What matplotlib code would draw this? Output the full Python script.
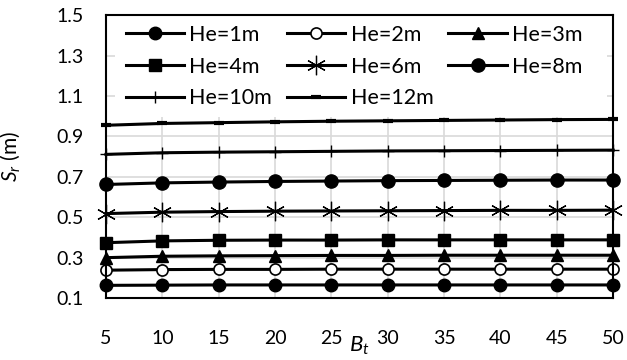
import matplotlib
matplotlib.use('Agg')
import matplotlib.pyplot as plt
from matplotlib.patches import Rectangle

plt.rcParams['font.family'] = ['Lato', 'DejaVu Sans']
plt.rcParams['mathtext.fontset'] = 'custom'
plt.rcParams['mathtext.rm'] = 'Lato'
plt.rcParams['mathtext.it'] = 'Lato:italic'

bt = [5, 10, 15, 20, 25, 30, 35, 40, 45, 50]

he1 = [0.163, 0.164, 0.165, 0.165, 0.165, 0.165, 0.165, 0.165, 0.165, 0.165]
he2 = [0.238, 0.241, 0.242, 0.242, 0.243, 0.243, 0.243, 0.243, 0.243, 0.243]
he3 = [0.300, 0.307, 0.309, 0.310, 0.311, 0.311, 0.312, 0.312, 0.312, 0.312]
he4 = [0.374, 0.383, 0.386, 0.387, 0.387, 0.388, 0.388, 0.388, 0.388, 0.388]
he6 = [0.518, 0.525, 0.528, 0.530, 0.531, 0.532, 0.533, 0.534, 0.534, 0.535]
he8 = [0.662, 0.670, 0.674, 0.677, 0.679, 0.681, 0.682, 0.683, 0.684, 0.684]
he10 = [0.811, 0.819, 0.822, 0.824, 0.826, 0.828, 0.829, 0.830, 0.831, 0.832]
he12 = [0.955, 0.964, 0.968, 0.972, 0.975, 0.977, 0.979, 0.981, 0.983, 0.984]

labels = ['He=1m', 'He=2m', 'He=3m', 'He=4m', 'He=6m', 'He=8m', 'He=10m', 'He=12m']
yticks = [0.1, 0.3, 0.5, 0.7, 0.9, 1.1, 1.3, 1.5]

fig = plt.figure(figsize=(6.27, 3.6), dpi=100)
ax = fig.add_axes([0.169, 0.172, 0.809, 0.786])

lw = 2.2
k = 'black'
ax.plot(bt, he1, color=k, lw=lw, marker='o', ms=9, mfc=k, mec=k, label=labels[0], clip_on=False)
ax.plot(bt, he2, color=k, lw=lw, marker='o', ms=8, mfc='white', mec=k, mew=1.2, label=labels[1], clip_on=False)
ax.plot(bt, he3, color=k, lw=lw, marker='^', ms=8.5, mfc=k, mec=k, label=labels[2], clip_on=False)
ax.plot(bt, he4, color=k, lw=lw, marker='s', ms=8.5, mfc=k, mec=k, label=labels[3], clip_on=False)
ax.plot(bt, he6, color=k, lw=lw, marker=(6, 2, 0), ms=14, mec=k, mew=0.9, label=labels[4], clip_on=False)
ax.plot(bt, he8, color=k, lw=lw, marker='o', ms=9.5, mfc=k, mec=k, label=labels[5], clip_on=False)
ax.plot(bt, he10, color=k, lw=lw, marker='+', ms=9, mec=k, mew=1.0, label=labels[6], clip_on=False)
ax.plot(bt, he12, color=k, lw=lw, marker='_', ms=7, mec=k, mew=3, label=labels[7], clip_on=False)

ax.set_xlim(5, 50)
ax.set_ylim(0.1, 1.5)
ax.set_xticks(bt)
ax.set_yticks(yticks)
ax.set_yticklabels(['%.1f' % v for v in yticks])
ax.tick_params(axis='both', length=0, labelsize=14)
ax.tick_params(axis='x', pad=23)
ax.tick_params(axis='y', pad=16)
ax.grid(True, color='#d9d9d9', lw=1.2)
ax.set_axisbelow(True)
for s in ax.spines.values():
    s.set_color('black')
    s.set_linewidth(1.5)

# white area behind the legend hides the gridlines
ax.add_patch(Rectangle((0.018, 0.64), 0.97, 0.36, transform=ax.transAxes,
                       facecolor='white', edgecolor='none', zorder=1))

# legend filled row by row like the original
h, l = ax.get_legend_handles_labels()
order = [0, 3, 6, 1, 4, 7, 2, 5]
ax.legend([h[i] for i in order], [l[i] for i in order], ncol=3, loc='upper left',
          bbox_to_anchor=(0.02, 1.0), frameon=False,
          fontsize=15.5, handlelength=2.7, handletextpad=0.25, columnspacing=0.7,
          labelspacing=0.55, borderaxespad=0.05)

ax.set_xlabel('$B_t$', fontsize=16)
ax.xaxis.set_label_coords(0.5, -0.13)
ax.set_ylabel('$S_r$ (m)', fontsize=15)
ax.yaxis.set_label_coords(-0.165, 0.5)

fig.savefig('out.png', dpi=100)
